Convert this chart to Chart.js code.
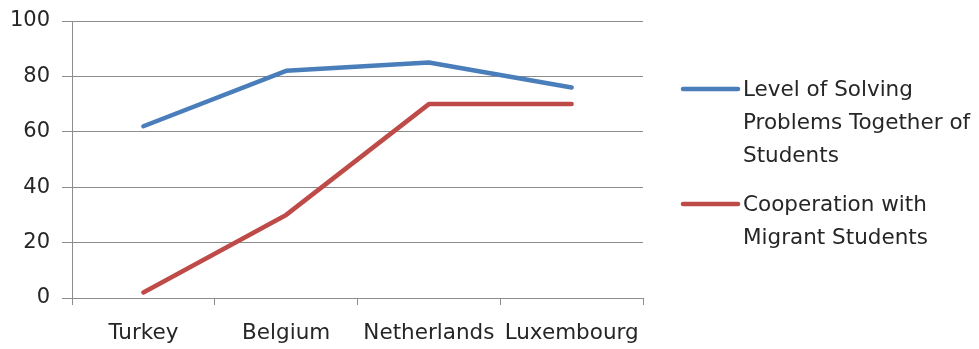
<!DOCTYPE html>
<html>
<head>
<meta charset="utf-8">
<script src="https://cdn.jsdelivr.net/npm/chart.js@4/dist/chart.umd.min.js"></script>
<style>
  html, body { margin: 0; padding: 0; background: #ffffff; }
  #wrap { width: 979px; height: 349px; position: relative; }
</style>
</head>
<body>
<div id="wrap"><canvas id="c" width="979" height="349"></canvas></div>
<script>
// Countries on the category axis
const categories = ['Turkey', 'Belgium', 'Netherlands', 'Luxembourg'];

// Series values
const solvingTogether = [62, 82, 85, 76];
const migrantCooperation = [2, 30, 70, 70];

// Series names (wrapped over several legend lines)
const solvingLabel = ['Level of Solving', 'Problems Together of', 'Students'];
const migrantLabel = ['Cooperation with', 'Migrant Students'];

// Value axis ticks
const yTicks = [0, 20, 40, 60, 80, 100];

const FONT = '"DejaVu Sans", sans-serif';
const TEXT = '#262626';
const GRID = '#8c8c8c';

// Legend drawn at the right of the plot, each entry a short line plus wrapped text
const sideLegend = {
  id: 'sideLegend',
  afterDraw(chart) {
    const ctx = chart.ctx;
    const lineX0 = 683, lineX1 = 738, textX = 743;
    const lineH = 33;
    let y = 90;
    ctx.save();
    ctx.font = '21.5px ' + FONT;
    ctx.textBaseline = 'middle';
    ctx.textAlign = 'left';
    chart.data.datasets.forEach(ds => {
      ctx.strokeStyle = ds.borderColor;
      ctx.lineWidth = ds.borderWidth;
      ctx.lineCap = 'round';
      ctx.beginPath();
      ctx.moveTo(lineX0, y - 1);
      ctx.lineTo(lineX1, y - 1);
      ctx.stroke();
      ctx.fillStyle = TEXT;
      ds.label.forEach((ln, i) => ctx.fillText(ln, textX, y + i * lineH));
      y += ds.label.length * lineH + 16;
    });
    ctx.restore();
  }
};

new Chart(document.getElementById('c'), {
  type: 'line',
  data: {
    labels: categories,
    datasets: [
      {
        label: solvingLabel,
        data: solvingTogether,
        borderColor: '#4a7ebb',
        borderWidth: 4.5,
        pointRadius: 0,
        tension: 0,
        fill: false,
        borderCapStyle: 'round',
        borderJoinStyle: 'round'
      },
      {
        label: migrantLabel,
        data: migrantCooperation,
        borderColor: '#be4b48',
        borderWidth: 4.5,
        pointRadius: 0,
        tension: 0,
        fill: false,
        borderCapStyle: 'round',
        borderJoinStyle: 'round'
      }
    ]
  },
  options: {
    responsive: false,
    animation: false,
    devicePixelRatio: 1,
    layout: { padding: { left: 0, right: 336, top: 21, bottom: 0 } },
    plugins: {
      legend: { display: false },
      tooltip: { enabled: false }
    },
    scales: {
      x: {
        offset: true,
        border: { display: true, color: GRID, width: 1 },
        grid: { display: true, offset: true, drawOnChartArea: false, drawTicks: true, tickLength: 7, color: GRID },
        ticks: { color: TEXT, font: { family: FONT, size: 21.5 }, padding: 16, maxRotation: 0, autoSkip: false },
        afterFit(scale) { scale.height = 51; scale.paddingLeft = 0; scale.paddingRight = 0; }
      },
      y: {
        min: 0,
        max: 100,
        afterBuildTicks(scale) { scale.ticks = yTicks.map(v => ({ value: v })); },
        border: { display: true, color: GRID, width: 1 },
        grid: { color: GRID, lineWidth: 1, drawTicks: true, tickLength: 10 },
        ticks: { color: TEXT, font: { family: FONT, size: 21 }, padding: 12 },
        afterFit(scale) { scale.width = 72; scale.paddingTop = 0; scale.paddingBottom = 0; }
      }
    }
  },
  plugins: [sideLegend]
});
</script>
</body>
</html>
